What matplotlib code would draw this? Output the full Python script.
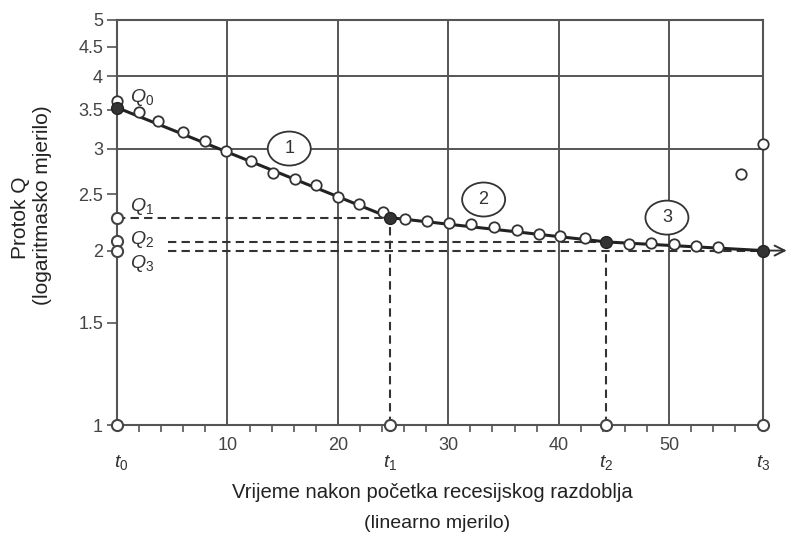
import matplotlib
matplotlib.use("Agg")
import matplotlib.pyplot as plt
from matplotlib.ticker import FixedLocator, NullFormatter, NullLocator
from matplotlib.patches import Ellipse
from matplotlib.transforms import ScaledTranslation

# ---- data ----
open_x = [0.0, 2.0, 3.7, 6.0, 8.0, 9.9, 12.1, 14.1, 16.1, 18.0, 20.0, 21.9, 24.1,
          26.1, 28.1, 30.1, 32.1, 34.1, 36.2, 38.2, 40.1, 42.4, 46.4, 48.4,
          50.4, 52.4, 54.4, 56.5, 58.5]
open_q = [3.62, 3.47, 3.35, 3.20, 3.09, 2.97, 2.86, 2.72, 2.66, 2.60, 2.47, 2.41, 2.33,
          2.27, 2.25, 2.23, 2.22, 2.20, 2.17, 2.14, 2.12, 2.10, 2.05, 2.06,
          2.05, 2.04, 2.03, 2.71, 3.05]

t_vals = [0.0, 24.7, 44.3, 58.5]          # t0, t1, t2, t3
q_vals = [3.53, 2.28, 2.07, 2.00]         # Q0, Q1, Q2, Q3 (break points)
t_labels = ["$t_0$", "$t_1$", "$t_2$", "$t_3$"]
q_labels = ["$Q_0$", "$Q_1$", "$Q_2$", "$Q_3$"]
q_axis_marks = [3.62, 2.28, 2.08, 2.00]

y_ticks = [1, 1.5, 2, 2.5, 3, 3.5, 4, 4.5, 5]
y_ticklabels = ["1", "1.5", "2", "2.5", "3", "3.5", "4", "4.5", "5"]
x_ticks = [10, 20, 30, 40, 50]
segment_labels = ["1", "2", "3"]
segment_pos_x = [15.6, 33.2, 49.8]
segment_pos_q = [3.00, 2.45, 2.28]

# ---- styling ----
plt.rcParams["font.family"] = ["Liberation Sans", "DejaVu Sans"]
plt.rcParams["mathtext.fontset"] = "custom"
plt.rcParams["mathtext.it"] = "Liberation Sans:italic"
plt.rcParams["mathtext.rm"] = "Liberation Sans"

grid_c = "#555555"
txt_c = "#333333"

fig = plt.figure(figsize=(7.89, 5.38), dpi=100)
ax = fig.add_axes([117 / 789, 1 - 425 / 538, (763 - 117) / 789, (425 - 20) / 538])
ax.set_yscale("log")
ax.set_xlim(0, t_vals[-1])
ax.set_ylim(1, 5)

for s in ax.spines.values():
    s.set_color(grid_c)
    s.set_linewidth(1.5)

# ticks
ax.yaxis.set_major_locator(FixedLocator(y_ticks))
ax.yaxis.set_minor_locator(NullLocator())
ax.set_yticklabels(y_ticklabels)
ax.yaxis.set_minor_formatter(NullFormatter())
ax.tick_params(axis="y", direction="out", length=7, width=1.2, color=grid_c,
               labelsize=13, labelcolor="#444444", pad=3)
ax.xaxis.set_major_locator(FixedLocator(x_ticks))
ax.xaxis.set_minor_locator(FixedLocator([v for v in range(2, 58, 2) if v % 10]))
ax.tick_params(axis="x", which="major", direction="out", length=0,
               labelsize=13, labelcolor="#444444", pad=9)
ax.tick_params(axis="x", which="minor", direction="out", length=5, width=1.2, color=grid_c)

# grid
for xv in x_ticks:
    ax.axvline(xv, color=grid_c, lw=1.4, zorder=1)
for yv in [3, 4]:
    ax.axhline(yv, color=grid_c, lw=1.4, zorder=1)

# dashed guide lines
dash = dict(color=txt_c, lw=1.5, ls=(0, (4, 2.5)), zorder=2)
ax.plot([0, t_vals[1]], [q_vals[1], q_vals[1]], **dash)
ax.plot([4.6, t_vals[2]], [q_vals[2], q_vals[2]], **dash)
ax.plot([4.6, t_vals[3]], [q_vals[3], q_vals[3]], **dash)
ax.plot([t_vals[1], t_vals[1]], [1, q_vals[1]], **dash)
ax.plot([t_vals[2], t_vals[2]], [1, q_vals[2]], **dash)

# recession segments
ax.plot(t_vals, q_vals, color="#222222", lw=2.2, zorder=3)
ax.annotate("", xy=(60.9, q_vals[3]), xytext=(t_vals[3], q_vals[3]),
            arrowprops=dict(arrowstyle="->", color="#333333", lw=1.4,
                            mutation_scale=18),
            annotation_clip=False, zorder=3)

# observed points
ax.plot(open_x, open_q, ls="none", marker="o", ms=7.5, mfc="white",
        mec="#333333", mew=1.3, zorder=4, clip_on=False)
# break points
ax.plot(t_vals, q_vals, ls="none", marker="o", ms=8.5, mfc="#333333",
        mec="#222222", zorder=5, clip_on=False)
# marks on axes
ax.plot(t_vals, [1] * 4, ls="none", marker="o", ms=8, mfc="white",
        mec="#444444", mew=1.5, zorder=5, clip_on=False)
ax.plot([0] * 3, q_axis_marks[1:], ls="none", marker="o", ms=8, mfc="white",
        mec="#444444", mew=1.5, zorder=5, clip_on=False)

# Q labels
q_label_pos = [3.68, 2.38, 2.09, 1.90]
for lab, qy in zip(q_labels, q_label_pos):
    ax.text(1.2, qy, lab, fontsize=14, color=txt_c, ha="left", va="center", zorder=6)

# t labels
for lab, tx in zip(t_labels, t_vals):
    ax.annotate(lab, xy=(tx, 1), xytext=(3 if tx == 0 else 0, -27),
                textcoords="offset points", fontsize=14, color=txt_c,
                ha="center", va="center", annotation_clip=False)

# circled segment numbers
for lab, sx, sq in zip(segment_labels, segment_pos_x, segment_pos_q):
    tr = fig.dpi_scale_trans + ScaledTranslation(sx, sq, ax.transData)
    ax.add_patch(Ellipse((0, 0), 0.43, 0.34, transform=tr, fc="white",
                         ec="#333333", lw=1.3, zorder=5))
    ax.text(sx, sq, lab, fontsize=13, color=txt_c, ha="center", va="center", zorder=6)

# axis titles
narrow = ["Liberation Sans Narrow", "Liberation Sans", "DejaVu Sans"]
fig.text(432 / 789, 1 - 493 / 538, "Vrijeme nakon početka recesijskog razdoblja",
         family=narrow, fontsize=14.6, color="#222222", ha="center", va="center")
fig.text(437 / 789, 1 - 523 / 538, "(linearno mjerilo)",
         family=narrow, fontsize=14, color="#222222", ha="center", va="center")
fig.text(20 / 789, 1 - 218 / 538, "Protok Q", rotation=90,
         fontsize=15, color="#222222", ha="center", va="center")
fig.text(43 / 789, 1 - 205 / 538, "(logaritmasko mjerilo)", rotation=90,
         family=narrow, fontsize=15, color="#222222", ha="center", va="center")

fig.savefig("out.png", dpi=100)
